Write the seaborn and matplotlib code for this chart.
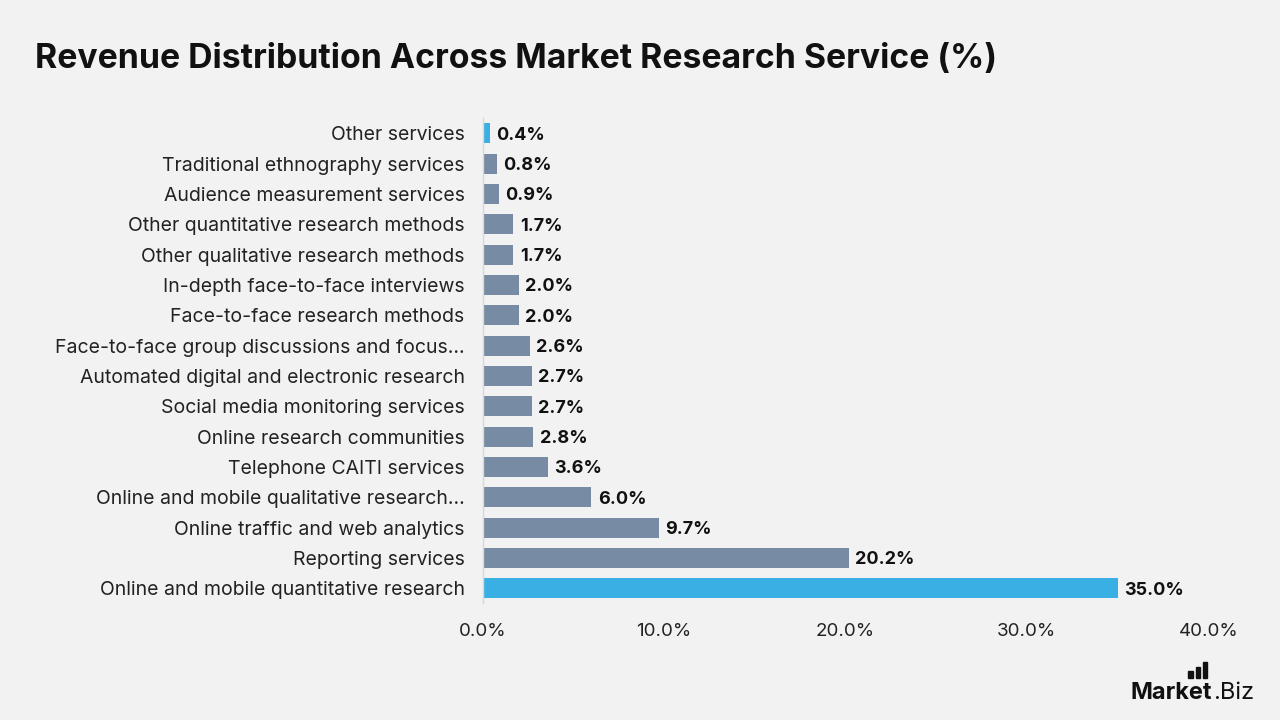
import numpy as np
import pandas as pd
import matplotlib
matplotlib.use("Agg")
import matplotlib.pyplot as plt
from matplotlib.patches import Rectangle
import seaborn as sns

# ── Data ──────────────────────────────────────────────────────────────────────
services = [
    "Other services",
    "Traditional ethnography services",
    "Audience measurement services",
    "Other quantitative research methods",
    "Other qualitative research methods",
    "In-depth face-to-face interviews",
    "Face-to-face research methods",
    "Face-to-face group discussions and focus...",
    "Automated digital and electronic research",
    "Social media monitoring services",
    "Online research communities",
    "Telephone CAITI services",
    "Online and mobile qualitative research...",
    "Online traffic and web analytics",
    "Reporting services",
    "Online and mobile quantitative research",
]
share = [0.4, 0.8, 0.9, 1.7, 1.7, 2.0, 2.0, 2.6, 2.7, 2.7, 2.8, 3.6, 6.0, 9.7, 20.2, 35.0]
highlight = ["Other services", "Online and mobile quantitative research"]
x_ticks = [0, 10, 20, 30, 40]

BG = "#F2F2F2"
GREY_BLUE = "#778BA5"
SKY = "#3AAFE3"

df = pd.DataFrame({"service": services, "share": share})
palette = {s: (SKY if s in highlight else GREY_BLUE) for s in services}

# ── Plot ──────────────────────────────────────────────────────────────────────
sns.set_theme(style="white")
plt.rcParams["font.family"] = ["Inter", "DejaVu Sans"]

fig = plt.figure(figsize=(12.8, 7.2), dpi=100, facecolor=BG)
ax = fig.add_axes([0.377, 0.162, 0.567, 0.674], facecolor=BG)

sns.barplot(data=df, x="share", y="service", hue="service", palette=palette,
            order=services, width=0.66, legend=False, saturation=1,
            linewidth=0, ax=ax)

for i, v in enumerate(share):
    ax.text(v + 0.35, i + 0.06, f"{v:.1f}%", va="center", ha="left",
            fontsize=13, fontweight="bold", color="#111111")

ax.set_xlim(0, 40)
ax.set_ylim(len(services) - 0.5, -0.5)
ax.set_xticks(x_ticks)
ax.set_xticklabels([f"{t:.1f}%" for t in x_ticks])
ax.set_xlabel("")
ax.set_ylabel("")
ax.tick_params(axis="x", length=0, labelsize=13.5, colors="#222222", pad=14)
ax.tick_params(axis="y", length=0, labelsize=14, colors="#222222", pad=13)

for side in ["top", "right", "bottom"]:
    ax.spines[side].set_visible(False)
ax.spines["left"].set_color("#D8D8D8")
ax.spines["left"].set_linewidth(1)

fig.text(0.027, 0.918, "Revenue Distribution Across Market Research Service (%)",
         fontsize=24.3, fontweight="bold", color="#111111", ha="left", va="center")

# logo
logo = fig.text(0.883, 0.038, "Market", fontsize=17, fontweight="bold",
                color="#111111", ha="left", va="center")
fig.canvas.draw()
bb = logo.get_window_extent().transformed(fig.transFigure.inverted())
fig.text(bb.x1 + 0.001, 0.038, ".Biz", fontsize=17, color="#111111",
         ha="left", va="center")
for k, h in enumerate([0.010, 0.016, 0.022]):
    fig.patches.append(Rectangle((0.9285 + k * 0.0055, 0.058), 0.0032, h,
                                 transform=fig.transFigure, color="#111111"))

fig.savefig("out.png", dpi=100, facecolor=BG)
